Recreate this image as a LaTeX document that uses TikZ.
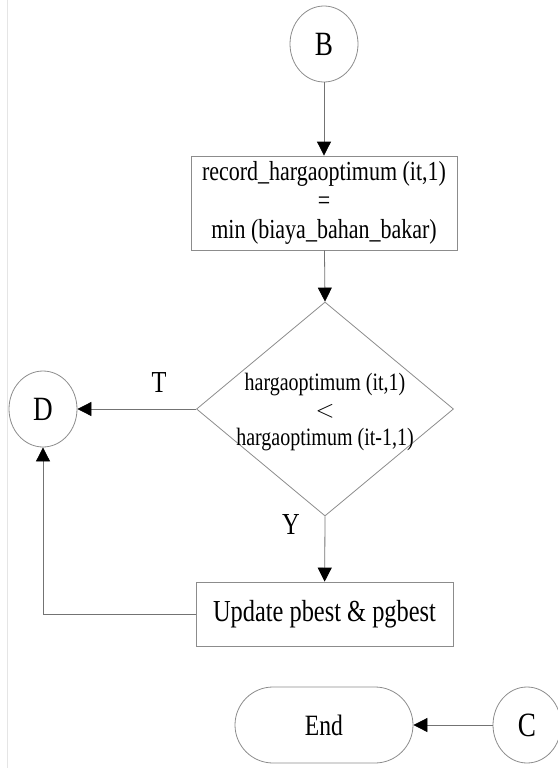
\documentclass[tikz,border=0pt]{standalone}
\usepackage{fontspec}
\setmainfont{Liberation Serif}[FakeStretch=0.8]
\usetikzlibrary{shapes.geometric,arrows.meta}

\begin{document}
\begin{tikzpicture}[x=1pt,y=-1pt]
		\tikzset{recstyle/.style={rectangle, draw=black!45, line width=0.8pt, inner sep=0pt, align=center},
			circstyle/.style={ellipse, draw=black!45, line width=0.8pt, inner sep=0pt, minimum width=68pt, minimum height=76pt, font=\fontsize{34}{36}\selectfont},
			decstyle/.style={diamond, draw=black!45, line width=0.8pt, inner sep=0pt, minimum width=257pt, minimum height=214pt},
			arrstyle/.style={draw=black!55, line width=0.8pt, -{Triangle[width=14pt,length=14pt,color=black]}}}
		
		\useasboundingbox (0,0) rectangle (557,768);
		\draw[black!10, line width=0.6pt] (7,0) -- (7,768);
		
		\node[circstyle] (nodeb) at (324,44) {B};
		\node[recstyle, minimum width=266pt, minimum height=94pt, font=\fontsize{27.5}{29}\selectfont] (rectrecord) at (324,203) {record\_hargaoptimum (it,1)\\=\\min (biaya\_bahan\_bakar)};
		\node[decstyle] (decharga) at (325,409) {};
		\node[align=center, inner sep=0pt, font=\fontsize{25}{27.5}\selectfont] (dectext) at (325,412) {hargaoptimum (it,1)\\$<$\\hargaoptimum (it-1,1)};
		\node[circstyle] (noded) at (43,409) {D};
		\node[recstyle, minimum width=257pt, minimum height=64pt, font=\fontsize{30.5}{32}\selectfont] (rectupdate) at (324.5,614) {Update pbest \& pgbest};
		\node[recstyle, rounded corners=38pt, minimum width=178pt, minimum height=76pt, font=\fontsize{29.5}{31}\selectfont] (rectend) at (324,725) {End};
		\node[circstyle] (nodec) at (527,725) {C};
		
		\draw[arrstyle] (nodeb) to (rectrecord);
		\draw[arrstyle] (rectrecord) to (decharga.north);
		\draw[arrstyle] (decharga.west) to (noded);
		\node[font=\fontsize{30.5}{32}\selectfont] (labelt) at (159,383) {T};
		\draw[arrstyle] (decharga.south) to (rectupdate);
		\node[font=\fontsize{30.5}{32}\selectfont] (labely) at (291,525) {Y};
		\draw[arrstyle] (rectupdate.west) -| (noded.south);
		\draw[arrstyle] (nodec) to (rectend);
		
\end{tikzpicture}
\end{document}
